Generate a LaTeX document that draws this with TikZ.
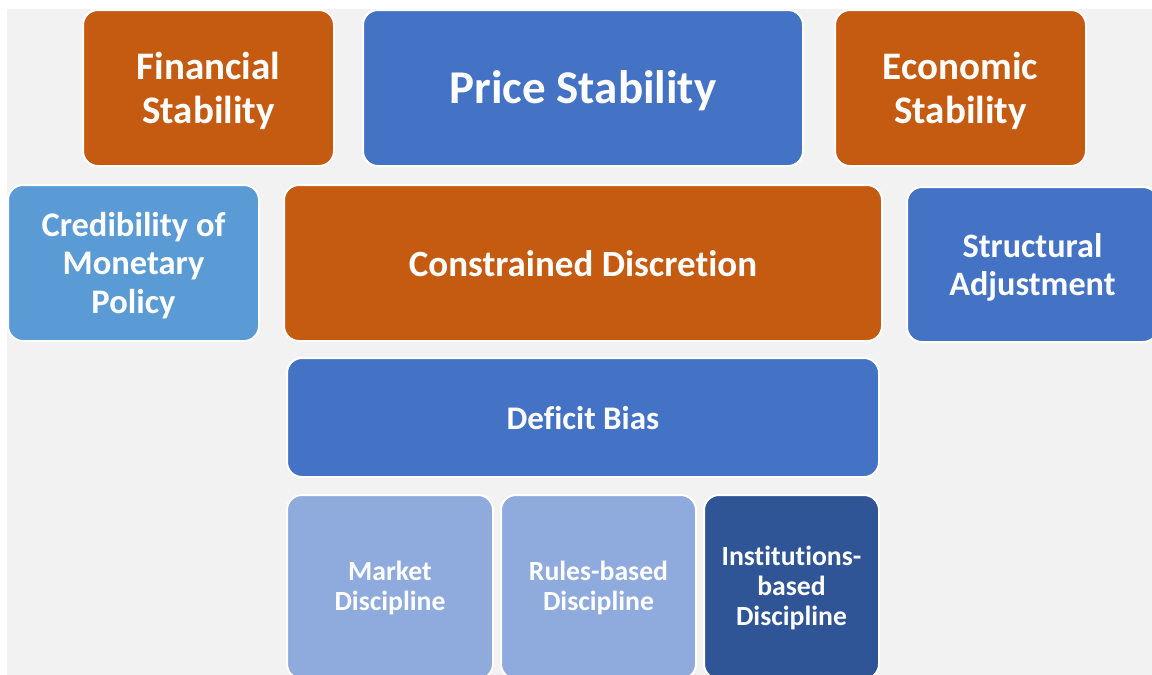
\documentclass[tikz,border=0pt]{standalone}
\usepackage{fontspec}
\setmainfont{Carlito}[Ligatures=NoCommon]
\definecolor{orng}{HTML}{C55A11}
\definecolor{blu}{HTML}{4472C4}
\definecolor{lblu}{HTML}{5B9BD5}
\definecolor{pblu}{HTML}{8FAADC}
\definecolor{dblu}{HTML}{2F5597}
\definecolor{bg}{HTML}{F2F2F2}
\begin{document}
\begin{tikzpicture}[x=1pt,y=-1pt,
  box/.style={rectangle, rounded corners=15pt, draw=white, line width=2pt, text=white,
    align=center, inner sep=0pt},
  txt/.style={text=white, align=center, inner sep=0pt, yshift=-2.5pt},
  big/.style={font=\fontsize{39}{44}\selectfont\bfseries},
  mid/.style={font=\fontsize{34.5}{38.5}\selectfont\bfseries},
  sml/.style={font=\fontsize{27.7}{30}\selectfont\bfseries}]
\useasboundingbox (0,0) rectangle (1152,675);
\clip (0,0) rectangle (1152,675);
\fill[white] (0,0) rectangle (1152,675);
\fill[bg] (7,9) rectangle (1152,675);
\node[box, fill=orng, minimum width=251pt, minimum height=156pt,
  label={[txt,big]center:Financial\\Stability}] (fin) at (208.5,88) {};
\node[box, fill=blu, minimum width=440pt, minimum height=156pt,
  label={[txt,yshift=-0.5pt,font=\fontsize{47}{56}\selectfont\bfseries]center:Price Stability}] (price) at (583,88) {};
\node[box, fill=orng, minimum width=251pt, minimum height=156pt,
  label={[txt,big]center:Economic\\Stability}] (econ) at (960.5,88) {};
\node[box, fill=lblu, minimum width=251pt, minimum height=156pt,
  label={[txt,mid]center:Credibility of\\Monetary\\Policy}] (cred) at (133.5,263) {};
\node[box, fill=orng, minimum width=598pt, minimum height=156pt,
  label={[txt,yshift=1.5pt,font=\fontsize{37}{44}\selectfont\bfseries]center:Constrained Discretion}] (constr) at (583,263) {};
\node[box, fill=blu, minimum width=251pt, minimum height=155pt,
  label={[txt,font=\fontsize{34.2}{38}\selectfont\bfseries]center:Structural\\Adjustment}] (struct) at (1032.5,264.5) {};
\node[box, fill=blu, minimum width=592pt, minimum height=119pt,
  label={[txt,yshift=2pt,font=\fontsize{33}{40}\selectfont\bfseries]center:Deficit Bias}] (def) at (583,417.5) {};
\node[box, fill=pblu, minimum width=206pt, minimum height=184pt,
  label={[txt,sml,yshift=1.5pt]center:Market\\Discipline}] (market) at (390,587) {};
\node[box, fill=pblu, minimum width=195pt, minimum height=184pt,
  label={[txt,sml,yshift=1.5pt]center:Rules-based\\Discipline}] (rules) at (598.5,587) {};
\node[box, fill=dblu, minimum width=175pt, minimum height=184pt,
  label={[txt,sml,yshift=1.5pt]center:Institutions-\\based\\Discipline}] (inst) at (791.5,587) {};
\end{tikzpicture}
\end{document}
